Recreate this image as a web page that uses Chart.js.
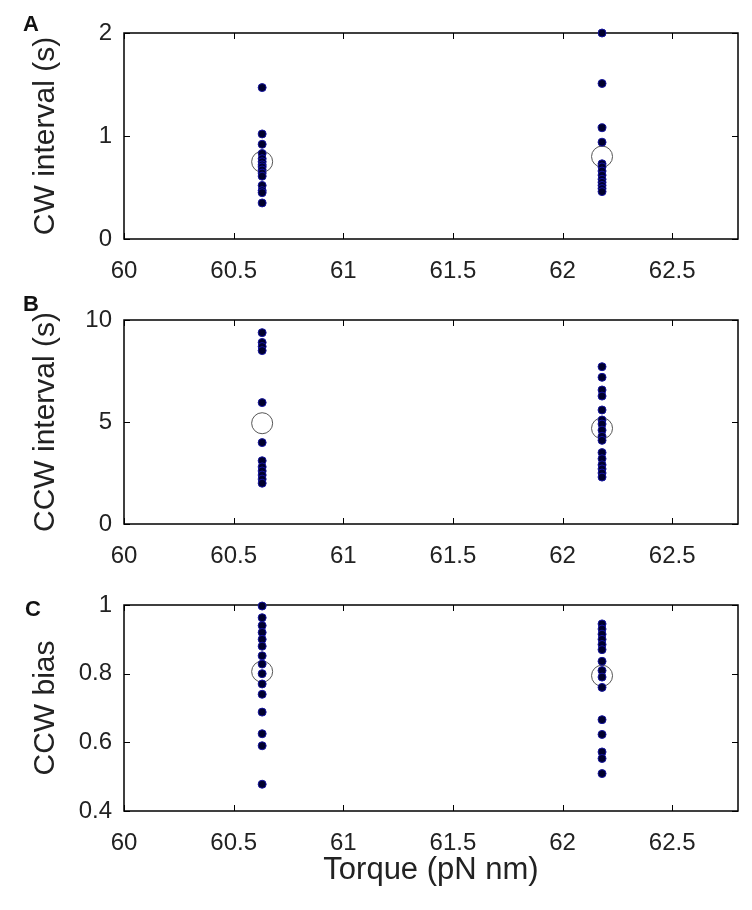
<!DOCTYPE html>
<html lang="en">
<head>
<meta charset="UTF-8">
<title>Switching vs torque</title>
<script src="https://cdn.jsdelivr.net/npm/chart.js"></script>
<style>
  body { margin: 0; background: #fff; }
  .panel { position: absolute; left: 0; }
  .letter { position: absolute; font: bold 22px "Liberation Sans", Arial, sans-serif; line-height: 1; color: #111; }
</style>
</head>
<body>
<div class="panel" style="top:0"><canvas id="cwChart" width="752" height="287"></canvas></div>
<div class="panel" style="top:287px"><canvas id="ccwChart" width="752" height="285"></canvas></div>
<div class="panel" style="top:572px"><canvas id="biasChart" width="752" height="338"></canvas></div>
<div class="letter" style="left:23px;top:13px">A</div>
<div class="letter" style="left:23px;top:293px">B</div>
<div class="letter" style="left:25px;top:598px">C</div>

<script>
// two torque levels (pN nm)
const torque = [60.63, 62.18];

// A: CW interval (s)
const cwLow  = [1.47, 1.02, 0.92, 0.83, 0.78, 0.75, 0.72, 0.70, 0.67, 0.64, 0.61, 0.52, 0.47, 0.45, 0.35];
const cwHigh = [2.0, 1.51, 1.08, 0.94, 0.73, 0.70, 0.66, 0.62, 0.58, 0.55, 0.52, 0.49, 0.46];
const cwMean = [0.75, 0.80];

// B: CCW interval (s)
const ccwLow  = [9.38, 8.9, 8.7, 8.5, 5.95, 3.99, 3.1, 2.8, 2.6, 2.4, 2.2, 2.0];
const ccwHigh = [7.71, 7.19, 6.57, 6.27, 5.59, 5.10, 4.9, 4.6, 4.3, 4.1, 3.50, 3.2, 2.9, 2.7, 2.5, 2.3];
const ccwMean = [4.94, 4.69];

// C: CCW bias
const biasLow  = [0.997, 0.963, 0.94, 0.92, 0.90, 0.88, 0.852, 0.828, 0.80, 0.77, 0.74, 0.688, 0.625, 0.59, 0.478];
const biasHigh = [0.945, 0.93, 0.915, 0.90, 0.885, 0.87, 0.836, 0.809, 0.79, 0.76, 0.666, 0.623, 0.572, 0.553, 0.509];
const biasMean = [0.806, 0.794];

// tick labels
const xTicks    = [60, 60.5, 61, 61.5, 62, 62.5];
const cwTicks   = [0, 1, 2];
const ccwTicks  = [0, 5, 10];
const biasTicks = [0.4, 0.6, 0.8, 1];

const FONT = '"Liberation Sans", Arial, sans-serif';
Chart.defaults.color = '#222';
Chart.defaults.font.family = FONT;

// matlab-style box with inward ticks on all four sides
const frameBox = {
  id: 'frameBox',
  beforeDatasetsDraw(chart) {
    const { ctx, chartArea: a, scales: { x, y } } = chart;
    ctx.save();
    ctx.strokeStyle = '#000';
    ctx.lineWidth = 1.5;
    ctx.strokeRect(a.left, a.top, a.width, a.height);
    ctx.lineWidth = 1;
    ctx.beginPath();
    x.ticks.forEach(t => {
      const px = Math.round(x.getPixelForValue(t.value)) + 0.5;
      ctx.moveTo(px, a.bottom); ctx.lineTo(px, a.bottom - 6);
      ctx.moveTo(px, a.top);    ctx.lineTo(px, a.top + 6);
    });
    y.ticks.forEach(t => {
      const py = Math.round(y.getPixelForValue(t.value)) + 0.5;
      ctx.moveTo(a.left, py);  ctx.lineTo(a.left + 6, py);
      ctx.moveTo(a.right, py); ctx.lineTo(a.right - 6, py);
    });
    ctx.stroke();
    ctx.restore();
  }
};

function points(vals, x) {
  return vals.map(v => ({ x: x, y: v }));
}

function makePanel(id, low, high, mean, yTicks, yTitle, xHeight, xTitle) {
  const dotStyle = {
    pointRadius: 4,
    pointBackgroundColor: '#00002e',
    pointBorderColor: '#1515a0',
    pointBorderWidth: 1,
    showLine: false,
    clip: false
  };
  new Chart(document.getElementById(id), {
    type: 'scatter',
    data: {
      datasets: [
        Object.assign({ data: points(low, torque[0]) }, dotStyle),
        Object.assign({ data: points(high, torque[1]) }, dotStyle),
        {
          data: mean.map((v, i) => ({ x: torque[i], y: v })),
          pointRadius: 10.5,
          pointBackgroundColor: 'rgba(0,0,0,0)',
          pointBorderColor: '#555',
          pointBorderWidth: 1,
          showLine: false,
          clip: false
        }
      ]
    },
    options: {
      responsive: false,
      animation: false,
      layout: { padding: { top: 33, right: 14, left: 0, bottom: 0 } },
      plugins: { legend: { display: false }, tooltip: { enabled: false } },
      scales: {
        x: {
          type: 'linear',
          min: 60,
          max: 62.8,
          afterBuildTicks: s => { s.ticks = xTicks.map(v => ({ value: v })); },
          afterFit: s => { s.height = xHeight; },
          grid: { display: false, drawTicks: false },
          border: { display: false },
          ticks: { padding: 18, maxRotation: 0, font: { size: 24 }, callback: v => String(v) },
          title: {
            display: !!xTitle,
            text: xTitle || '',
            font: { size: 31 },
            padding: { top: 0, bottom: 21 }
          }
        },
        y: {
          min: yTicks[0],
          max: yTicks[yTicks.length - 1],
          afterBuildTicks: s => { s.ticks = yTicks.map(v => ({ value: v })); },
          afterFit: s => { s.width = 124; },
          grid: { display: false, drawTicks: false },
          border: { display: false },
          ticks: { padding: 12, font: { size: 24 }, callback: v => String(v) },
          title: {
            display: true,
            text: yTitle,
            font: { size: 30 },
            padding: { top: 28, bottom: 0 }
          }
        }
      }
    },
    plugins: [frameBox]
  });
}

makePanel('cwChart', cwLow, cwHigh, cwMean, cwTicks, 'CW interval (s)', 48);
makePanel('ccwChart', ccwLow, ccwHigh, ccwMean, ccwTicks, 'CCW interval (s)', 48);
makePanel('biasChart', biasLow, biasHigh, biasMean, biasTicks, 'CCW bias', 99, 'Torque (pN nm)');
</script>
</body>
</html>
